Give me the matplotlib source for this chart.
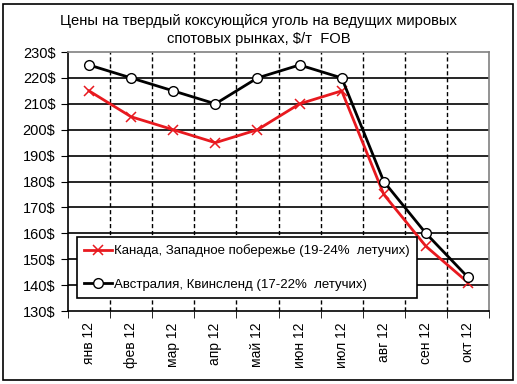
import numpy as np
import matplotlib.pyplot as plt
from matplotlib.patches import Rectangle

plt.rcParams['font.family'] = ['Liberation Sans', 'DejaVu Sans']

months = ["янв 12", "фев 12", "мар 12", "апр 12", "май 12",
          "июн 12", "июл 12", "авг 12", "сен 12", "окт 12"]
canada = [215, 205, 200, 195, 200, 210, 215, 175, 155, 141]
australia = [225, 220, 215, 210, 220, 225, 220, 180, 160, 143]
yticks = list(range(130, 231, 10))

fig = plt.figure(figsize=(5.17, 3.84), dpi=100)
ax = fig.add_axes([0.1315, 0.19, 0.8145, 0.6745])

x = np.arange(len(months))
ax.plot(x, canada, color="#e8191f", linewidth=2, marker="x", markersize=7,
        markeredgewidth=1.1, label="Канада, Западное побережье (19-24%  летучих)")
ax.plot(x, australia, color="black", linewidth=2, marker="o", markersize=7,
        markerfacecolor="white", markeredgecolor="black", markeredgewidth=1,
        label="Австралия, Квинсленд (17-22%  летучих)")

ax.set_xlim(-0.5, len(months) - 0.5)
ax.set_ylim(130, 230)
ax.set_yticks(yticks)
ax.set_yticklabels([f"{v}$" for v in yticks], fontsize=10.5)

# категории: подписи по центру, деления и пунктир на границах
ax.set_xticks(x)
ax.set_xticklabels(months, rotation=90, fontsize=10)
ax.tick_params(axis="x", which="major", length=0, pad=8)
ax.set_xticks(np.arange(-0.5, len(months), 1), minor=True)
ax.tick_params(axis="x", which="minor", length=5, direction="out", color="black")
ax.tick_params(axis="y", length=5, direction="out", color="black", pad=4)

for b in np.arange(0.5, len(months) - 0.5, 1):
    ax.axvline(b, color="black", linestyle=(0, (3, 2)), linewidth=1, zorder=1)
for v in yticks[1:-1]:
    ax.axhline(v, color="black", linewidth=1.2, zorder=1)

ax.spines["left"].set_color("black")
ax.spines["bottom"].set_color("black")
ax.spines["top"].set_color("#808080")
ax.spines["right"].set_color("#808080")
for s in ax.spines.values():
    s.set_linewidth(1.2)

leg = ax.legend(loc="lower left", bbox_to_anchor=(0.021, 0.05), fontsize=9.5,
                frameon=True, fancybox=False, edgecolor="black",
                borderpad=0.55, labelspacing=1.6, handlelength=2.1,
                handletextpad=0.15, borderaxespad=0)
leg.get_frame().set_linewidth(1.2)
leg.get_frame().set_alpha(1)
leg.set_zorder(5)

fig.text(0.5, 0.963, "Цены на твердый коксующйся уголь на ведущих мировых\n"
         "спотовых рынках, $/т  FOB", ha="center", va="top", fontsize=10.6,
         linespacing=1.3)

fig.patches.append(Rectangle((0.006, 0.01), 0.986, 0.98, transform=fig.transFigure,
                             fill=False, edgecolor="black", linewidth=1.2))

fig.savefig("out.png", dpi=100)
